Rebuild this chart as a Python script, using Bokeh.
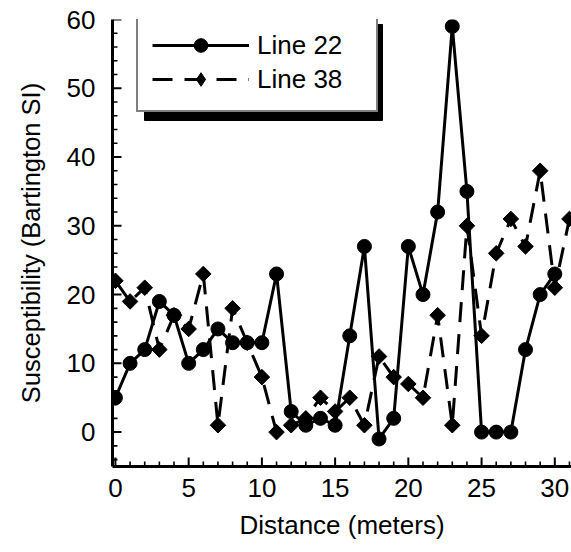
import numpy as np
from bokeh.plotting import figure
from bokeh.models import (Range1d, SingleIntervalTicker, Legend, LegendItem,
                          BoxAnnotation, ColumnDataSource)
from bokeh.embed import file_html
from bokeh.resources import INLINE

# ---- data ----
distance_22 = list(range(0, 31))
line_22 = [5, 10, 12, 19, 17, 10, 12, 15, 13, 13, 13, 23, 3, 1, 2, 1,
           14, 27, -1, 2, 27, 20, 32, 59, 35, 0, 0, 0, 12, 20, 23]
distance_38 = list(range(0, 32))
line_38 = [22, 19, 21, 12, 17, 15, 23, 1, 18, 13, 8, 0, 1, 2, 5, 3,
           5, 1, 11, 8, 7, 5, 17, 1, 30, 14, 26, 31, 27, 38, 21, 31]
series_names = ["Line 22", "Line 38"]
x_label = "Distance (meters)"
y_label = "Susceptibility (Bartington SI)"
x_major_ticks = [0, 5, 10, 15, 20, 25, 30]
x_minor_ticks = [v for v in range(0, 32) if v % 5 != 0]
y_major_ticks = [0, 10, 20, 30, 40, 50, 60]
y_minor_ticks = [v for v in range(-4, 60, 2) if v % 10 != 0]

FONT = "Liberation Sans"
W, H = 571, 552
BL, BR, BT, BB = 112, 0, 19, 86
X0, X1 = -0.2, 31.14
Y0, Y1 = -5, 60

p = figure(width=W, height=H, output_backend="svg", toolbar_location=None,
           x_range=Range1d(X0, X1), y_range=Range1d(Y0, Y1),
           min_border_left=BL, min_border_right=BR, min_border_top=BT,
           min_border_bottom=BB)
p.outline_line_color = None
p.grid.visible = False
p.background_fill_color = "white"

fw = W - BL - BR
fh = H - BT - BB
sx = (X1 - X0) / fw   # data units per pixel
sy = (Y1 - Y0) / fh

# inward tick marks
MAJ, MIN = 9, 5
p.segment(x0=x_major_ticks, x1=x_major_ticks, y0=[Y0] * len(x_major_ticks),
          y1=[Y0 + MAJ * sy] * len(x_major_ticks), line_color="black", line_width=2)
p.segment(x0=x_minor_ticks, x1=x_minor_ticks, y0=[Y0] * len(x_minor_ticks),
          y1=[Y0 + MIN * sy] * len(x_minor_ticks), line_color="black", line_width=1.6)
p.segment(x0=[X0] * len(y_major_ticks), x1=[X0 + MAJ * sx] * len(y_major_ticks),
          y0=y_major_ticks, y1=y_major_ticks, line_color="black", line_width=2)
p.segment(x0=[X0] * len(y_minor_ticks), x1=[X0 + MIN * sx] * len(y_minor_ticks),
          y0=y_minor_ticks, y1=y_minor_ticks, line_color="black", line_width=1.6)

src22 = ColumnDataSource(dict(x=distance_22, y=line_22))
src38 = ColumnDataSource(dict(x=distance_38, y=line_38))

l22 = p.line("x", "y", source=src22, line_color="black", line_width=3)
s22 = p.scatter("x", "y", source=src22, marker="circle", size=14,
                fill_color="black", line_color="black")
l38 = p.line("x", "y", source=src38, line_color="black", line_width=3,
             line_dash="20 12")
s38 = p.scatter("x", "y", source=src38, marker="square", angle=np.pi / 4,
                size=11, fill_color="black", line_color="black")
# marker used only for the legend sample (diamond shape, not drawn in plot)
leg38 = p.scatter(x=[np.nan], y=[np.nan], marker="diamond", size=17,
                  fill_color="black", line_color="black")

for ax in (p.xaxis[0], p.yaxis[0]):
    ax.axis_line_width = 3
    ax.major_tick_line_color = None
    ax.minor_tick_line_color = None
    ax.major_tick_in = 0
    ax.major_tick_out = 0
    ax.minor_tick_in = 0
    ax.minor_tick_out = 0
    ax.major_label_text_font = FONT
    ax.major_label_text_font_size = "26px"
    ax.major_label_text_color = "black"
    ax.axis_label_text_font = FONT
    ax.axis_label_text_font_style = "normal"
    ax.axis_label_text_color = "black"

p.xaxis.ticker = SingleIntervalTicker(interval=5, num_minor_ticks=5)
p.yaxis.ticker = SingleIntervalTicker(interval=10, num_minor_ticks=5)
p.xaxis.axis_label = x_label
p.yaxis.axis_label = y_label
p.xaxis.axis_label_text_font_size = "26px"
p.yaxis.axis_label_text_font_size = "25.5px"
p.xaxis.major_label_standoff = 12
p.xaxis.axis_label_standoff = 10
p.yaxis.major_label_standoff = 17
p.yaxis.axis_label_standoff = 19

# legend geometry (screen pixels, relative to frame bottom-left)
LEG_X, LEG_BOTTOM = 24, 354
LEG_W, LEG_H = 238, 96
SHADOW = 8

shadow = BoxAnnotation(left=X0 + (LEG_X + SHADOW) * sx,
                       right=X0 + (LEG_X + LEG_W + SHADOW) * sx,
                       bottom=Y0 + (LEG_BOTTOM - SHADOW) * sy,
                       top=Y0 + (LEG_BOTTOM + LEG_H - SHADOW) * sy,
                       fill_color="black", fill_alpha=1.0, line_color="black",
                       line_alpha=1.0)
p.add_layout(shadow)

legend = Legend(items=[LegendItem(label=series_names[0], renderers=[l22, s22]),
                       LegendItem(label=series_names[1], renderers=[l38, leg38])],
                location=(LEG_X, LEG_BOTTOM))
legend.glyph_width = 97
legend.glyph_height = 34
legend.label_width = 105
legend.label_standoff = 8
legend.padding = 14
legend.spacing = 0
legend.margin = 0
legend.label_text_font = FONT
legend.label_text_font_size = "26px"
legend.label_text_color = "black"
legend.border_line_color = "black"
legend.border_line_width = 2.5
legend.background_fill_color = "white"
legend.background_fill_alpha = 1.0
p.add_layout(legend)

open("out.html", "w").write(file_html(p, INLINE))
